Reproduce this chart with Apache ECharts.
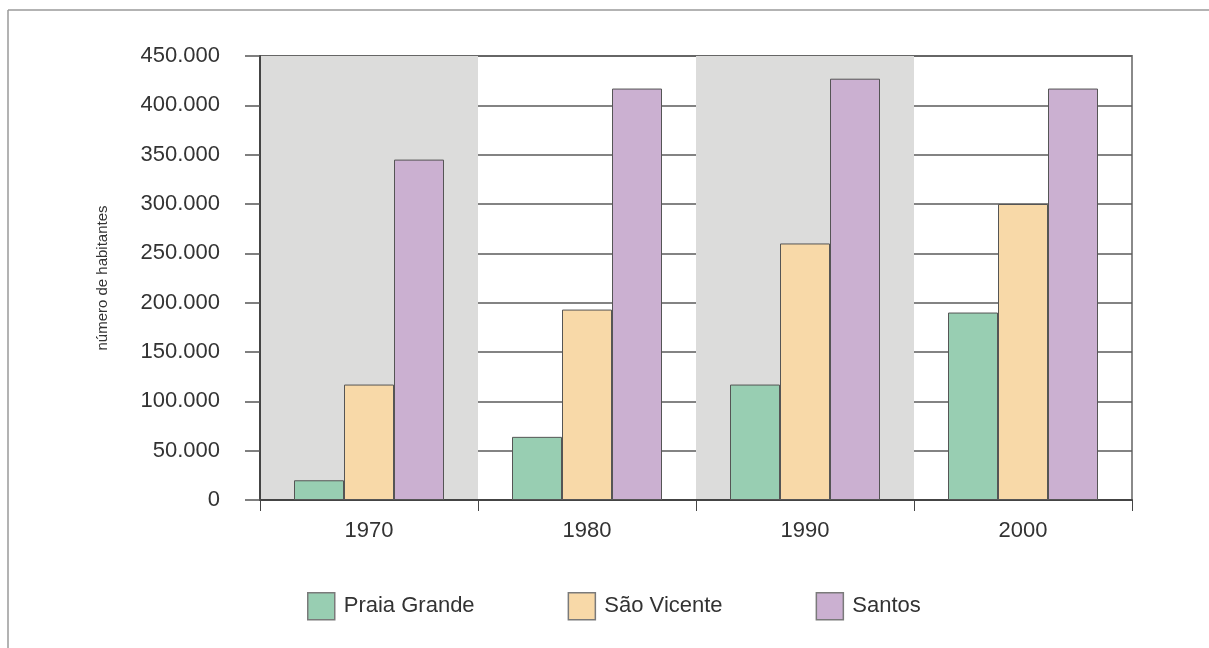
<!DOCTYPE html>
<html>
<head>
<meta charset="utf-8">
<script src="https://cdn.jsdelivr.net/npm/echarts@6/dist/echarts.min.js"></script>
<style>
html,body{margin:0;padding:0;background:#fff;}
#chart{width:1209px;height:648px;}
</style>
</head>
<body>
<div id="chart"></div>
<script>
var years = ['1970', '1980', '1990', '2000'];
var seriesNames = ['Praia Grande', 'São Vicente', 'Santos'];
var praiaGrande = [20000, 64000, 117000, 190000];
var saoVicente = [117000, 193000, 260000, 300000];
var santos = [345000, 417000, 427000, 417000];
var yMin = 0, yMax = 450000, yStep = 50000;
var colors = ['#98ceb2', '#f8d9a8', '#cbb0d1'];
var axisName = 'número de habitantes';

function fmt(v) {
  return String(v).replace(/\B(?=(\d{3})+(?!\d))/g, '.');
}

var chart = echarts.init(document.getElementById('chart'));
var font = 'Liberation Sans, Arial, Helvetica, sans-serif';
var values = [praiaGrande, saoVicente, santos];

chart.setOption({
  animation: false,
  textStyle: { fontFamily: font },
  graphic: [
    { type: 'line', shape: { x1: 8, y1: 10, x2: 1209, y2: 10 }, style: { stroke: '#9a9a9a', lineWidth: 1.5 } },
    { type: 'line', shape: { x1: 8, y1: 10, x2: 8, y2: 648 }, style: { stroke: '#9a9a9a', lineWidth: 1.5 } }
  ],
  grid: {
    left: 260, right: 77, top: 56, bottom: 148,
    show: true, borderColor: '#8a8a8a', borderWidth: 2, backgroundColor: 'transparent'
  },
  legend: {
    left: 307, top: 592, padding: 0,
    itemWidth: 27, itemHeight: 27, itemGap: 93,
    icon: 'rect',
    data: seriesNames,
    itemStyle: { borderColor: '#7a7a7a', borderWidth: 1.5 },
    textStyle: { fontSize: 22, color: '#333', fontFamily: font, padding: [0, 0, 0, 4] }
  },
  xAxis: {
    type: 'category',
    data: years,
    boundaryGap: true,
    axisLine: { show: true, lineStyle: { color: '#444', width: 2 } },
    axisTick: { show: true, length: 11, lineStyle: { color: '#444', width: 1 } },
    axisLabel: { fontSize: 22, color: '#333', margin: 20, fontFamily: font },
    splitLine: { show: false },
    splitArea: { show: true, areaStyle: { color: ['#dcdcdb', 'rgba(255,255,255,0)'] } }
  },
  yAxis: {
    type: 'value',
    min: yMin, max: yMax, interval: yStep,
    name: axisName,
    nameLocation: 'middle',
    nameRotate: 90,
    nameGap: 150,
    nameTextStyle: { fontSize: 15, color: '#333', fontFamily: font },
    axisLine: { show: true, lineStyle: { color: '#444', width: 2 } },
    axisTick: { show: true, length: 15, lineStyle: { color: '#555', width: 1.5 } },
    axisLabel: { fontSize: 22, color: '#333', margin: 40, fontFamily: font, formatter: fmt },
    splitLine: { show: true, lineStyle: { color: '#5a5a5a', width: 1.5 } }
  },
  series: seriesNames.map(function (n, i) {
    return {
      name: n,
      type: 'bar',
      data: values[i],
      barWidth: 50,
      barGap: '0%',
      itemStyle: { color: colors[i], borderColor: '#555', borderWidth: 1 }
    };
  })
});
</script>
</body>
</html>
